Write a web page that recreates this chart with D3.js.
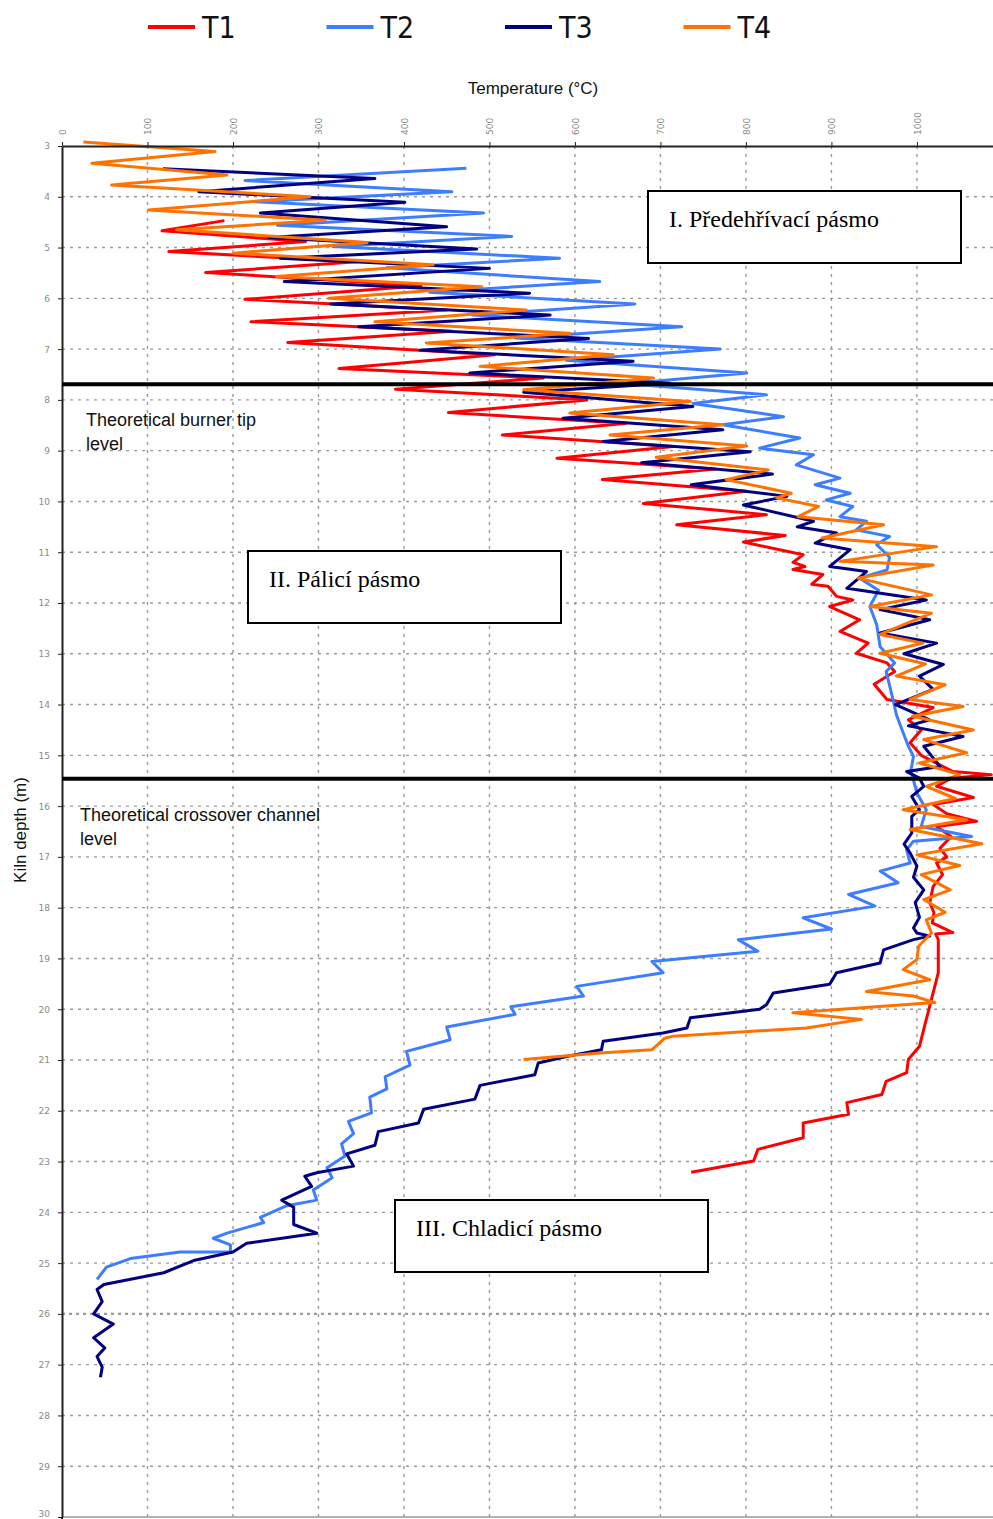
<!DOCTYPE html>
<html>
<head>
<meta charset="utf-8">
<script src="https://cdn.jsdelivr.net/npm/d3@7"></script>
<style>
  body { margin: 0; background: #fff; }
  svg { display: block; }
  .grid line { stroke: #9a9a9a; stroke-width: 1.4; stroke-dasharray: 3,5; }
  .axis text { fill: #8a8a8a; font-family: "DejaVu Sans", sans-serif; font-size: 9px; }
  .axis path, .axis line { stroke: #222; }
</style>
</head>
<body>
<div id="chart"></div>
<script>
// kiln temperature profiles: [depth (m), temperature (°C)]
const seriesNames = ["T1", "T2", "T3", "T4"]
const seriesColors = ["#ff0000", "#3d7dff", "#000080", "#ff7200"]

const t1 = [[4.47,190],[4.67,117],[4.88,285],[5.08,125],[5.28,345],[5.49,168],[5.75,420],[6.02,214],[6.23,450],[6.46,221],
  [6.65,456],[6.87,264],[7.11,506],[7.38,324],[7.57,563],[7.79,390],[8.0,614],[8.25,452],[8.46,660],[8.69,515],
  [8.92,715],[9.15,579],[9.36,764],[9.57,632],[9.8,800],[10.04,680],[10.26,824],[10.46,719],[10.67,846],[10.8,797],
  [11.05,867],[11.2,855],[11.28,869],[11.34,855],[11.44,890],[11.63,877],[11.67,896],[11.87,906],[11.94,925],[12.07,898],
  [12.33,933],[12.56,910],[12.79,943],[12.99,929],[13.18,965],[13.35,974],[13.6,950],[13.9,965],[14.06,1019],[14.3,990],
  [14.5,1005],[14.75,992],[15.0,1005],[15.32,1042],[15.38,1087],[15.45,1040],[15.61,1023],[15.83,1066],[15.97,1019],[16.15,1035],
  [16.3,1070],[16.4,1023],[16.6,1040],[16.83,1027],[17.0,1035],[17.12,1023],[17.35,1030],[17.58,1019],[17.9,1015],[18.1,1020],
  [18.3,1018],[18.49,1042],[18.52,1022],[18.63,1025],[19.28,1025],[19.94,1015],[20.33,1009],[20.73,1003],[20.99,990],[21.25,988],
  [21.42,964],[21.68,959],[21.84,918],[22.07,920],[22.24,867],[22.53,867],[22.76,814],[22.99,809],[23.21,736]]

const t2 = [[3.44,473],[3.68,214],[3.9,456],[4.1,226],[4.32,493],[4.56,252],[4.78,526],[4.98,317],[5.21,582],[5.4,380],
  [5.67,629],[5.88,430],[6.11,670],[6.33,480],[6.56,725],[6.78,530],[7.0,770],[7.22,590],[7.47,801],[7.68,660],
  [7.9,824],[8.07,738],[8.33,844],[8.49,773],[8.75,863],[8.95,816],[9.08,879],[9.28,859],[9.54,910],[9.67,881],
  [9.84,922],[9.97,894],[10.1,925],[10.3,910],[10.39,941],[10.56,929],[10.69,968],[10.85,953],[11.1,968],[11.35,965],
  [11.51,933],[11.75,955],[12.07,945],[12.43,953],[12.86,957],[13.18,974],[13.35,964],[13.9,972],[14.2,976],[14.56,984],
  [14.82,990],[15.02,996],[15.3,993],[15.74,1000],[16.07,1011],[16.4,1005],[16.6,1064],[16.69,996],[16.86,988],[17.12,992],
  [17.28,957],[17.51,978],[17.74,920],[17.97,951],[18.2,867],[18.42,900],[18.63,791],[18.86,814],[19.06,690],[19.28,703],
  [19.55,602],[19.74,610],[19.95,525],[20.1,530],[20.35,450],[20.6,454],[20.83,403],[21.1,407],[21.33,378],[21.57,380],
  [21.73,360],[22.04,362],[22.21,335],[22.45,341],[22.65,327],[22.89,331],[23.12,310],[23.32,316],[23.56,294],[23.76,298],
  [23.87,263],[24.1,232],[24.2,236],[24.41,193],[24.51,177],[24.64,197],[24.78,197],[24.78,138],[24.91,80],[25.08,52],
  [25.32,41]]

const t3 = [[3.45,118],[3.64,366],[3.9,160],[4.11,401],[4.32,232],[4.59,450],[4.8,242],[5.03,485],[5.21,255],[5.41,500],
  [5.67,260],[5.9,547],[6.11,314],[6.33,571],[6.56,347],[6.79,616],[7.02,419],[7.24,668],[7.47,477],[7.67,711],
  [7.85,540],[8.13,738],[8.36,586],[8.59,773],[8.82,633],[9.02,805],[9.24,678],[9.46,831],[9.67,736],[9.9,848],
  [10.07,797],[10.39,879],[10.5,860],[10.62,906],[10.82,881],[10.95,922],[11.28,898],[11.38,941],[11.71,918],[11.94,1011],
  [12.13,957],[12.33,1015],[12.59,957],[12.79,1023],[13.0,985],[13.21,1031],[13.44,1003],[13.7,1019],[14.0,975],[14.3,1015],
  [14.42,990],[14.63,1054],[14.82,1008],[15.22,1027],[15.32,988],[15.45,1003],[15.61,1008],[15.81,994],[16.07,1003],[16.2,994],
  [16.53,994],[16.75,985],[16.92,992],[17.18,1000],[17.4,996],[17.65,1008],[17.9,998],[18.19,1003],[18.4,996],[18.5,1000],
  [18.56,1015],[18.63,996],[18.83,961],[19.09,957],[19.28,906],[19.51,898],[19.68,832],[19.91,824],[20.0,816],[20.17,735],
  [20.37,731],[20.47,703],[20.63,633],[20.8,631],[20.93,590],[21.06,557],[21.29,553],[21.5,489],[21.77,483],[21.97,423],
  [22.24,417],[22.41,370],[22.68,366],[22.85,333],[23.09,341],[23.22,298],[23.29,284],[23.49,292],[23.76,257],[23.9,271],
  [24.24,271],[24.41,298],[24.61,216],[24.78,200],[24.95,154],[25.19,119],[25.42,49],[25.52,41],[25.76,47],[26.0,37],
  [26.2,60],[26.47,37],[26.67,50],[26.84,41],[27.05,47],[27.25,45]]

const t4 = [[2.92,25],[3.11,179],[3.34,35],[3.57,193],[3.77,58],[4.0,290],[4.26,101],[4.46,308],[4.65,134],[4.9,357],
  [5.11,201],[5.34,434],[5.57,251],[5.77,491],[6.0,312],[6.23,543],[6.46,366],[6.69,594],[6.88,426],[7.11,645],
  [7.34,489],[7.57,692],[7.8,540],[8.03,735],[8.26,594],[8.49,773],[8.69,641],[8.91,801],[9.13,695],[9.38,826],
  [9.57,777],[9.84,853],[9.93,836],[10.1,885],[10.3,861],[10.46,961],[10.72,889],[10.89,1023],[11.18,910],[11.25,1019],
  [11.51,931],[11.84,1017],[12.07,945],[12.2,1017],[12.62,957],[12.79,1007],[12.99,957],[13.2,1010],[13.44,976],[13.61,1033],
  [13.9,992],[14.04,1054],[14.23,995],[14.5,1066],[14.69,1008],[14.95,1058],[15.15,1003],[15.38,1050],[15.61,1011],[15.85,1045],
  [16.07,984],[16.27,1058],[16.46,992],[16.74,1076],[16.96,1000],[17.17,1050],[17.35,1005],[17.65,1039],[17.84,1008],[18.09,1033],
  [18.24,1011],[18.5,1017],[18.76,1002],[19.02,1000],[19.22,984],[19.42,1015],[19.65,941],[19.74,996],[19.87,1021],[20.07,855],
  [20.2,935],[20.37,871],[20.53,715],[20.57,705],[20.8,690],[20.86,629],[20.99,540]]

const seriesData = [t1, t2, t3, t4]

const tempTicks = [0,100,200,300,400,500,600,700,800,900,1000]
const depthTicks = [3,4,5,6,7,8,9,10,11,12,13,14,15,16,17,18,19,20,21,22,23,24,25,26,27,28,29,30]

// zone boundaries (burner tip, crossover channel)
const levelDepths = [7.69, 15.46]
const levelNotes = [["Theoretical burner tip", "level"], ["Theoretical crossover channel", "level"]]
const zoneNames = ["I. Předehřívací pásmo", "II. Pálicí pásmo", "III. Chladicí pásmo"]

const WD = 993, HT = 1519
const margin = { left: 62, top: 146 }

const svg = d3.select("#chart").append("svg")
    .attr("width", WD)
    .attr("height", HT)

const xs = d3.scaleLinear().domain([0, 1089]).range([margin.left, WD])
const ys = d3.scaleLinear().domain([3, 30]).range([margin.top, 1517])

// grid
const grid = svg.append("g").attr("class", "grid")
grid.selectAll(".vg")
    .data(tempTicks.slice(1))
    .enter().append("line")
      .attr("x1", d => xs(d)).attr("x2", d => xs(d))
      .attr("y1", ys(3)).attr("y2", HT)
grid.selectAll(".hg")
    .data(depthTicks.slice(1, -1))
    .enter().append("line")
      .attr("x1", margin.left).attr("x2", WD)
      .attr("y1", d => ys(d)).attr("y2", d => ys(d))
      .style("stroke-width", d => d == 26 ? 2.2 : 1.4)
      .style("stroke-dasharray", d => d == 26 ? "3,4" : null)

svg.append("line")
    .attr("x1", margin.left).attr("x2", WD)
    .attr("y1", ys(30)).attr("y2", ys(30))
    .attr("stroke", "#999").attr("stroke-width", 1.5)

// series
const line = d3.line()
    .x(d => xs(d[1]))
    .y(d => ys(d[0]))

svg.selectAll(".series")
    .data(seriesData)
    .enter().append("path")
      .attr("class", "series")
      .attr("d", line)
      .attr("fill", "none")
      .attr("stroke", (d, i) => seriesColors[i])
      .attr("stroke-width", 3)
      .attr("stroke-linejoin", "round")

// axes
const xAxis = svg.append("g")
    .attr("class", "axis")
    .attr("transform", "translate(0," + margin.top + ")")
    .call(d3.axisTop(xs).tickValues(tempTicks).tickFormat(d3.format("d")).tickSize(4).tickSizeOuter(0))
xAxis.select(".domain").attr("stroke-width", 2)
xAxis.selectAll("text")
    .attr("transform", "rotate(-90)")
    .attr("x", 11).attr("y", 0).attr("dy", "0.35em")
    .style("text-anchor", "start")

const yAxis = svg.append("g")
    .attr("class", "axis")
    .attr("transform", "translate(" + margin.left + ",0)")
    .call(d3.axisLeft(ys).tickValues(depthTicks).tickSize(4).tickPadding(8).tickSizeOuter(0))
yAxis.select(".domain").attr("stroke-width", 2)
// last label sits at the bottom edge, lift it so it stays readable
yAxis.selectAll(".tick text").filter(d => d == 30).attr("dy", "-0.1em")
svg.append("line")
    .attr("x1", margin.left).attr("x2", margin.left)
    .attr("y1", ys(30)).attr("y2", HT)
    .attr("stroke", "#222").attr("stroke-width", 2)

// axis titles
svg.append("text")
    .attr("x", 533).attr("y", 94)
    .attr("text-anchor", "middle")
    .attr("font-family", "Liberation Sans, Arial, sans-serif")
    .attr("font-size", "17px")
    .attr("fill", "#111")
    .text("Temperature (°C)")

svg.append("text")
    .attr("transform", "translate(26,830) rotate(-90)")
    .attr("text-anchor", "middle")
    .attr("font-family", "Liberation Sans, Arial, sans-serif")
    .attr("font-size", "17px")
    .attr("fill", "#111")
    .text("Kiln depth (m)")

// zone boundary lines
svg.selectAll(".level")
    .data(levelDepths)
    .enter().append("line")
      .attr("x1", margin.left).attr("x2", WD)
      .attr("y1", d => ys(d)).attr("y2", d => ys(d))
      .attr("stroke", "#000").attr("stroke-width", 4)

const noteX = [86, 80]
levelNotes.forEach((lines, i) => {
  const t = svg.append("text")
      .attr("font-family", "Liberation Sans, Arial, sans-serif")
      .attr("font-size", "18px")
      .attr("fill", "#111")
  lines.forEach((s, j) => {
    t.append("tspan")
      .attr("x", noteX[i])
      .attr("y", ys(levelDepths[i]) + 42 + j * 24)
      .text(s)
  })
})

// zone boxes
const boxPos = [[648, 191], [248, 551], [395, 1200]]
zoneNames.forEach((name, i) => {
  const g = svg.append("g").attr("transform", "translate(" + boxPos[i][0] + "," + boxPos[i][1] + ")")
  g.append("rect")
    .attr("width", 313).attr("height", 72)
    .attr("fill", "#fff")
    .attr("stroke", "#000").attr("stroke-width", 2)
  g.append("text")
    .attr("x", 21).attr("y", 36)
    .attr("font-family", "Liberation Serif, Times New Roman, serif")
    .attr("font-size", "24px")
    .attr("fill", "#000")
    .text(name)
})

// legend
const legend = svg.selectAll(".legend")
    .data(seriesNames)
    .enter().append("g")
      .attr("transform", (d, i) => "translate(" + (148 + i * 178.5) + ",27)")
legend.append("line")
    .attr("x1", 0).attr("x2", 47)
    .attr("stroke", (d, i) => seriesColors[i])
    .attr("stroke-width", 4)
legend.append("text")
    .attr("x", 54).attr("y", 11)
    .attr("font-family", "Liberation Sans Narrow, DejaVu Sans Condensed, sans-serif")
    .attr("font-stretch", "condensed")
    .attr("font-size", "30px")
    .attr("fill", "#111")
    .text(d => d)
</script>
</body>
</html>
